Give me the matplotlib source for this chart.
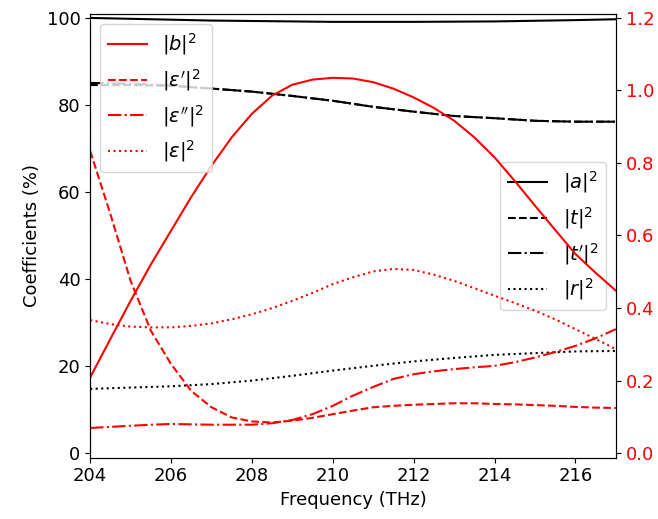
import matplotlib
matplotlib.use("Agg")
import matplotlib.pyplot as plt

plt.rcParams['font.size'] = 13

# black curves, left axis (%)
f_blk = [204, 205, 206, 207, 208, 209, 210, 211, 212, 213, 214, 215, 216, 217]
a2 = [99.9, 99.7, 99.5, 99.3, 99.2, 99.1, 99.0, 99.0, 99.0, 99.05, 99.1, 99.25, 99.4, 99.6]
t2 = [84.5, 84.5, 84.3, 83.7, 83.0, 82.0, 80.9, 79.5, 78.4, 77.4, 76.9, 76.3, 76.1, 76.1]
tp2 = [85.0, 84.8, 84.4, 83.7, 83.0, 82.0, 80.9, 79.5, 78.4, 77.4, 76.9, 76.3, 76.1, 76.1]
r2 = [14.8, 15.1, 15.4, 15.9, 16.7, 17.8, 19.0, 20.1, 21.1, 21.9, 22.6, 23.0, 23.4, 23.5]

# red curves, right axis
f_red = [204, 204.5, 205, 205.5, 206, 206.5, 207, 207.5, 208, 208.5, 209, 209.5, 210, 210.5,
         211, 211.5, 212, 212.5, 213, 213.5, 214, 214.5, 215, 215.5, 216, 216.5, 217]
b2 = [0.209, 0.315, 0.420, 0.520, 0.613, 0.706, 0.792, 0.870, 0.935, 0.985, 1.015, 1.029, 1.034, 1.032,
      1.022, 1.004, 0.980, 0.951, 0.916, 0.870, 0.815, 0.750, 0.682, 0.615, 0.549, 0.497, 0.448]
e1 = [0.833, 0.659, 0.475, 0.338, 0.246, 0.172, 0.127, 0.099, 0.088, 0.085, 0.090, 0.098, 0.108, 0.118,
      0.127, 0.131, 0.134, 0.136, 0.138, 0.138, 0.136, 0.135, 0.133, 0.131, 0.128, 0.126, 0.125]
e2 = [0.070, 0.073, 0.076, 0.079, 0.081, 0.080, 0.079, 0.079, 0.079, 0.083, 0.092, 0.108, 0.131, 0.159,
      0.183, 0.205, 0.218, 0.226, 0.232, 0.237, 0.241, 0.251, 0.264, 0.279, 0.296, 0.317, 0.342]
e3 = [0.367, 0.356, 0.349, 0.347, 0.347, 0.351, 0.358, 0.369, 0.383, 0.400, 0.420, 0.442, 0.466, 0.485,
      0.501, 0.508, 0.505, 0.492, 0.475, 0.455, 0.434, 0.414, 0.393, 0.369, 0.342, 0.315, 0.287]

fig = plt.figure(figsize=(6.58, 5.19), dpi=100)
ax1 = fig.add_axes([0.137, 0.118, 0.799, 0.855])
ax2 = ax1.twinx()

#black
ax1.plot(f_blk, a2, color='black', linestyle='-', label='$|a|^2$')
ax1.plot(f_blk, t2, color='black', linestyle='--', label='$|t|^2$')
ax1.plot(f_blk, tp2, color='black', linestyle='-.', label="$|t'|^2$")
ax1.plot(f_blk, r2, color='black', linestyle=':', label='$|r|^2$')
ax1.set_xlim(204, 217)
ax1.set_ylim(-1.0, 100.8)
ax1.set_xticks([204, 206, 208, 210, 212, 214, 216])
ax1.set_yticks([0, 20, 40, 60, 80, 100])
ax1.set_xlabel("Frequency (THz)")
ax1.set_ylabel("Coefficients (%)")
ax1.legend(loc='center right', fontsize=14)

#red
ax2.plot(f_red, b2, color='red', linestyle='-', label='$|b|^2$')
ax2.plot(f_red, e1, color='red', linestyle='--', label="$|\\varepsilon'|^2$")
ax2.plot(f_red, e2, color='red', linestyle='-.', label="$|\\varepsilon''|^2$")
ax2.plot(f_red, e3, color='red', linestyle=':', label='$|\\varepsilon|^2$')
ax2.set_ylim(-0.012, 1.2096)
ax2.set_yticks([0.0, 0.2, 0.4, 0.6, 0.8, 1.0, 1.2])
ax2.tick_params(axis='y', labelcolor='red')
ax2.legend(loc='upper left', fontsize=14)

fig.savefig("out.png", dpi=100)
